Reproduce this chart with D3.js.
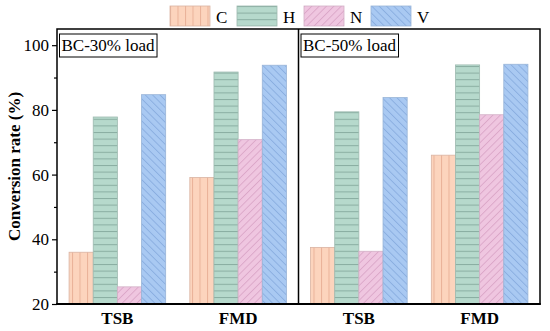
<!DOCTYPE html>
<html>
<head>
<meta charset="utf-8">
<script src="https://cdn.jsdelivr.net/npm/d3@7"></script>
<style>
  body { margin: 0; background: #fff; }
  svg { font-family: "Liberation Serif", "Times New Roman", serif; }
</style>
</head>
<body>
<svg id="chart" width="550" height="331"></svg>
<script>
var panels = ['BC-30% load', 'BC-50% load'];
var groups = ['TSB', 'FMD'];
var series = ['C', 'H', 'N', 'V'];
// rows: C, H, N, V ; columns: TSB, FMD
var load30 = [[36.0, 59.1], [77.8, 91.7], [25.3, 70.8], [84.7, 93.8]];
var load50 = [[37.5, 66.0], [79.4, 93.9], [36.3, 78.5], [83.8, 94.1]];
var majorTicks = [20, 40, 60, 80, 100];
var minorTicks = [30, 50, 70, 90];

var panelData = [load30, load50];

var style = {
  C: {fill: '#fcd4bd', line: '#e9b299', border: '#d9b3a2', kind: 'v'},
  H: {fill: '#b6d9cc', line: '#8aaea2', border: '#9dbab0', kind: 'h'},
  N: {fill: '#efc6e0', line: '#d6a0c3', border: '#d2b0c6', kind: 'd1'},
  V: {fill: '#a9c9f2', line: '#82a8dc', border: '#98b4d8', kind: 'd2'}
};

var plotL = 57, plotR = 540, plotT = 29, plotB = 304;
var svg = d3.select('#chart');
var defs = svg.append('defs');

// hatch patterns
series.forEach(function(s) {
  var st = style[s];
  var p = defs.append('pattern')
    .attr('id', 'pat_' + s)
    .attr('patternUnits', 'userSpaceOnUse');
  if (st.kind === 'v') {
    p.attr('width', 7.5).attr('height', 10);
    p.append('rect').attr('width', 7.5).attr('height', 10).attr('fill', st.fill);
    p.append('line').attr('x1', 0.5).attr('x2', 0.5).attr('y1', 0).attr('y2', 10)
      .attr('stroke', st.line).attr('stroke-width', 1);
  } else if (st.kind === 'h') {
    p.attr('width', 10).attr('height', 6.6);
    p.append('rect').attr('width', 10).attr('height', 6.6).attr('fill', st.fill);
    p.append('line').attr('x1', 0).attr('x2', 10).attr('y1', 0.5).attr('y2', 0.5)
      .attr('stroke', st.line).attr('stroke-width', 1);
  } else {
    p.attr('width', 5.2).attr('height', 10)
      .attr('patternTransform', st.kind === 'd1' ? 'rotate(45)' : 'rotate(-45)');
    p.append('rect').attr('width', 5.2).attr('height', 10).attr('fill', st.fill);
    p.append('line').attr('x1', 0.5).attr('x2', 0.5).attr('y1', 0).attr('y2', 10)
      .attr('stroke', st.line).attr('stroke-width', 0.8);
  }
});

var y = d3.scaleLinear().domain([20, 105]).range([plotB, plotT]);
var xPanel = d3.scaleBand().domain(panels).range([plotL, plotR]);
var xGroup = d3.scaleBand().domain(groups).range([0, xPanel.bandwidth()])
  .paddingInner(0.2).paddingOuter(0.1);
var xSeries = d3.scaleBand().domain(series).range([0, xGroup.bandwidth()]);

// bars
panels.forEach(function(pn, pi) {
  var g = svg.append('g').attr('transform', 'translate(' + xPanel(pn) + ',0)');
  var rows = [];
  series.forEach(function(s, si) {
    groups.forEach(function(gr, gi) {
      rows.push({s: s, g: gr, v: panelData[pi][si][gi]});
    });
  });
  g.selectAll('rect.bar').data(rows).enter().append('rect')
    .attr('class', 'bar')
    .attr('x', function(d) { return xGroup(d.g) + xSeries(d.s); })
    .attr('width', xSeries.bandwidth())
    .attr('y', function(d) { return y(d.v); })
    .attr('height', function(d) { return y(20) - y(d.v); })
    .attr('fill', function(d) { return 'url(#pat_' + d.s + ')'; })
    .attr('stroke', function(d) { return style[d.s].border; })
    .attr('stroke-width', 0.8);

  // group labels
  g.selectAll('text.grp').data(groups).enter().append('text')
    .attr('class', 'grp')
    .attr('x', function(d) { return xGroup(d) + xGroup.bandwidth() / 2; })
    .attr('y', 324)
    .attr('text-anchor', 'middle')
    .attr('font-size', 17).attr('font-weight', 'bold')
    .text(function(d) { return d; });

  // panel label box
  var lab = g.append('g');
  var t = lab.append('text')
    .attr('x', 4.5).attr('y', 51)
    .attr('font-size', 17)
    .text(pn);
  var bb = t.node().getBBox();
  lab.insert('rect', 'text')
    .attr('x', 2.5).attr('y', 34)
    .attr('width', bb.width + 4).attr('height', 23)
    .attr('fill', '#fff').attr('stroke', '#000').attr('stroke-width', 1);
});

// frame and divider
svg.append('rect')
  .attr('x', plotL).attr('y', plotT)
  .attr('width', plotR - plotL).attr('height', plotB - plotT)
  .attr('fill', 'none').attr('stroke', '#000').attr('stroke-width', 1.5);
svg.append('line')
  .attr('x1', xPanel(panels[1])).attr('x2', xPanel(panels[1]))
  .attr('y1', plotT).attr('y2', plotB)
  .attr('stroke', '#000').attr('stroke-width', 1.5);
svg.append('line')
  .attr('x1', plotL - 0.75).attr('x2', plotR + 0.75)
  .attr('y1', plotB).attr('y2', plotB)
  .attr('stroke', '#000').attr('stroke-width', 2.2);

// y axis
var yAxis = svg.append('g').attr('transform', 'translate(' + plotL + ',0)')
  .call(d3.axisLeft(y).tickValues(majorTicks).tickSize(5).tickPadding(3));
yAxis.select('.domain').remove();
yAxis.attr('font-family', null);
yAxis.selectAll('.tick line').attr('stroke-width', 1.2);
yAxis.selectAll('.tick text')
  .attr('font-family', '"Liberation Serif", "Times New Roman", serif')
  .attr('font-size', 17).attr('fill', '#000');
var yMinor = svg.append('g').attr('transform', 'translate(' + plotL + ',0)')
  .call(d3.axisLeft(y).tickValues(minorTicks).tickSize(3).tickFormat(''));
yMinor.select('.domain').remove();
yMinor.selectAll('.tick line').attr('stroke-width', 1.2);

svg.append('text')
  .attr('transform', 'translate(20,' + ((plotT + plotB) / 2) + ') rotate(-90)')
  .attr('text-anchor', 'middle')
  .attr('font-size', 17).attr('font-weight', 'bold')
  .text('Conversion rate (%)');

// legend
var legend = svg.append('g');
var lx = d3.scaleLinear().domain([0, 1]).range([170, 237]);
var item = legend.selectAll('g').data(series).enter().append('g')
  .attr('transform', function(d, i) { return 'translate(' + lx(i) + ',6)'; });
item.append('rect')
  .attr('width', 40).attr('height', 20)
  .attr('fill', function(d) { return 'url(#pat_' + d + ')'; })
  .attr('stroke', function(d) { return style[d].border; })
  .attr('stroke-width', 0.8);
item.append('text')
  .attr('x', 46).attr('y', 16.5)
  .attr('font-size', 17)
  .text(function(d) { return d; });
</script>
</body>
</html>
